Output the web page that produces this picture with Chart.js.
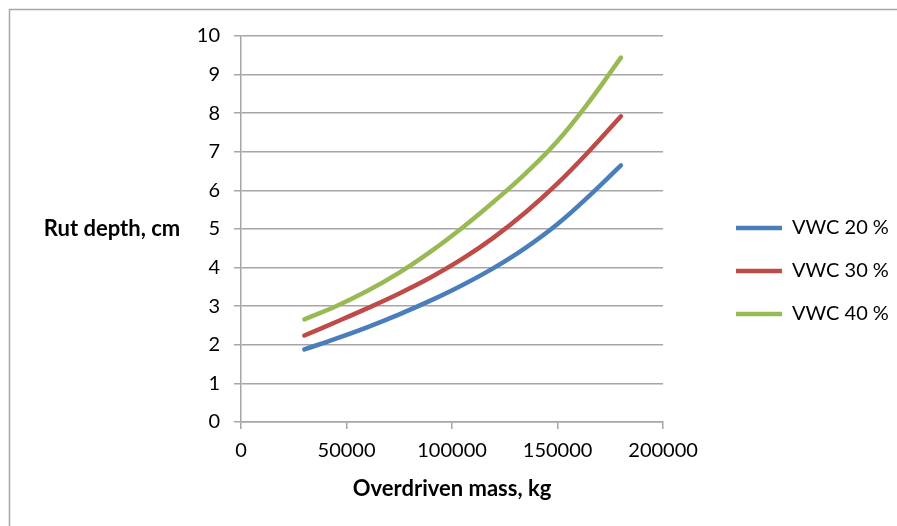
<!DOCTYPE html>
<html>
<head>
<meta charset="utf-8">
<title>Rut depth vs overdriven mass</title>
<script src="https://cdn.jsdelivr.net/npm/chart.js@4.4.1/dist/chart.umd.min.js"></script>
<style>
  html, body { margin: 0; padding: 0; background: #ffffff; }
  #wrap { position: relative; width: 897px; height: 526px; }
</style>
</head>
<body>
<div id="wrap"><canvas id="chart"></canvas></div>
<script>
// Overdriven mass (kg) at which rut depth was evaluated
const massKg = [30000, 45000, 60000, 75000, 90000, 105000, 120000, 135000, 150000, 165000, 180000];

// Rut depth (cm) for each volumetric water content
const vwc20 = [1.88, 2.16, 2.46, 2.79, 3.15, 3.55, 4.00, 4.52, 5.13, 5.86, 6.65];
const vwc30 = [2.24, 2.59, 2.95, 3.33, 3.75, 4.23, 4.79, 5.44, 6.18, 7.02, 7.92];
const vwc40 = [2.66, 3.00, 3.40, 3.87, 4.42, 5.04, 5.72, 6.45, 7.28, 8.30, 9.44];

const seriesNames = ['VWC 20 %', 'VWC 30 %', 'VWC 40 %'];
const seriesColors = ['#4a7ebb', '#be4b48', '#98b954'];

const xTicks = [0, 50000, 100000, 150000, 200000];
const yTicks = [0, 1, 2, 3, 4, 5, 6, 7, 8, 9, 10];

const xAxisTitle = 'Overdriven mass, kg';
const yAxisTitle = 'Rut depth, cm';

const FONT = 'Lato';
const GRID = '#a6a6a6';

const toPoints = (ys) => massKg.map((x, i) => ({ x: x, y: ys[i] }));

const datasets = [vwc20, vwc30, vwc40].map((ys, i) => ({
  label: seriesNames[i],
  data: toPoints(ys),
  borderColor: seriesColors[i],
  backgroundColor: seriesColors[i],
  borderWidth: 4.5,
  borderCapStyle: 'round',
  borderJoinStyle: 'round',
  pointRadius: 0,
  pointHoverRadius: 0,
  tension: 0.4,
  fill: false
}));

// Outer frame of the chart object
const framePlugin = {
  id: 'frame',
  beforeDraw(chart) {
    const ctx = chart.ctx;
    ctx.save();
    ctx.strokeStyle = GRID;
    ctx.lineWidth = 1.5;
    ctx.strokeRect(9.5, 9.5, 1000, 1000);
    ctx.restore();
  }
};

// Horizontal value-axis title to the left of the tick labels
const yTitlePlugin = {
  id: 'yTitle',
  afterDraw(chart) {
    const ctx = chart.ctx;
    const a = chart.chartArea;
    ctx.save();
    ctx.font = 'bold 22px ' + FONT;
    ctx.fillStyle = '#000000';
    ctx.textAlign = 'center';
    ctx.textBaseline = 'middle';
    ctx.fillText(yAxisTitle, 112, (a.top + a.bottom) / 2);
    ctx.restore();
  }
};

// Place the legend column to the right of the plot, slightly below centre
const legendPlacePlugin = {
  id: 'legendPlace',
  afterLayout(chart) {
    const lg = chart.legend;
    if (!lg || !lg.columnSizes || !lg.columnSizes.length) return;
    const pad = lg.options.labels.padding;
    const dx = 736 - (lg.left + pad);
    const curY = (lg.top + pad + lg.bottom - lg.columnSizes[0].height) / 2;
    const dy = 218 - curY;
    lg.left += dx; lg.right += dx;
    lg.top += dy; lg.bottom += dy;
  }
};

new Chart(document.getElementById('chart'), {
  type: 'line',
  data: { datasets: datasets },
  plugins: [framePlugin, yTitlePlugin, legendPlacePlugin],
  options: {
    responsive: true,
    maintainAspectRatio: false,
    animation: false,
    events: [],
    layout: { padding: { top: 36, right: 48, bottom: 0, left: 0 } },
    plugins: {
      tooltip: { enabled: false },
      legend: {
        position: 'right',
        labels: {
          usePointStyle: true,
          pointStyle: 'line',
          pointStyleWidth: 46,
          padding: 23,
          color: '#000000',
          font: { family: FONT, size: 20 }
        }
      }
    },
    scales: {
      x: {
        type: 'linear',
        min: xTicks[0],
        max: xTicks[xTicks.length - 1],
        afterBuildTicks(scale) { scale.ticks = xTicks.map(v => ({ value: v })); },
        afterFit(scale) { scale.height = 104; },
        ticks: {
          color: '#000000',
          font: { family: FONT, size: 20 },
          padding: 10,
          maxRotation: 0,
          autoSkip: false,
          callback: (v) => String(v)
        },
        grid: { drawOnChartArea: false, drawTicks: true, tickLength: 7, color: GRID, lineWidth: 1.5 },
        border: { display: true, color: GRID, width: 1.5 },
        title: {
          display: true,
          text: xAxisTitle,
          color: '#000000',
          font: { family: FONT, size: 22, weight: 'bold' },
          padding: { top: 4, bottom: 24 }
        }
      },
      y: {
        type: 'linear',
        min: yTicks[0],
        max: yTicks[yTicks.length - 1],
        afterBuildTicks(scale) { scale.ticks = yTicks.map(v => ({ value: v })); },
        afterFit(scale) { scale.width = 241; },
        ticks: {
          color: '#000000',
          font: { family: FONT, size: 20 },
          padding: 14,
          callback: (v) => String(v)
        },
        grid: { drawTicks: true, tickLength: 7, color: GRID, lineWidth: 1.5 },
        border: { display: true, color: GRID, width: 1.5 }
      }
    }
  }
});
</script>
</body>
</html>
